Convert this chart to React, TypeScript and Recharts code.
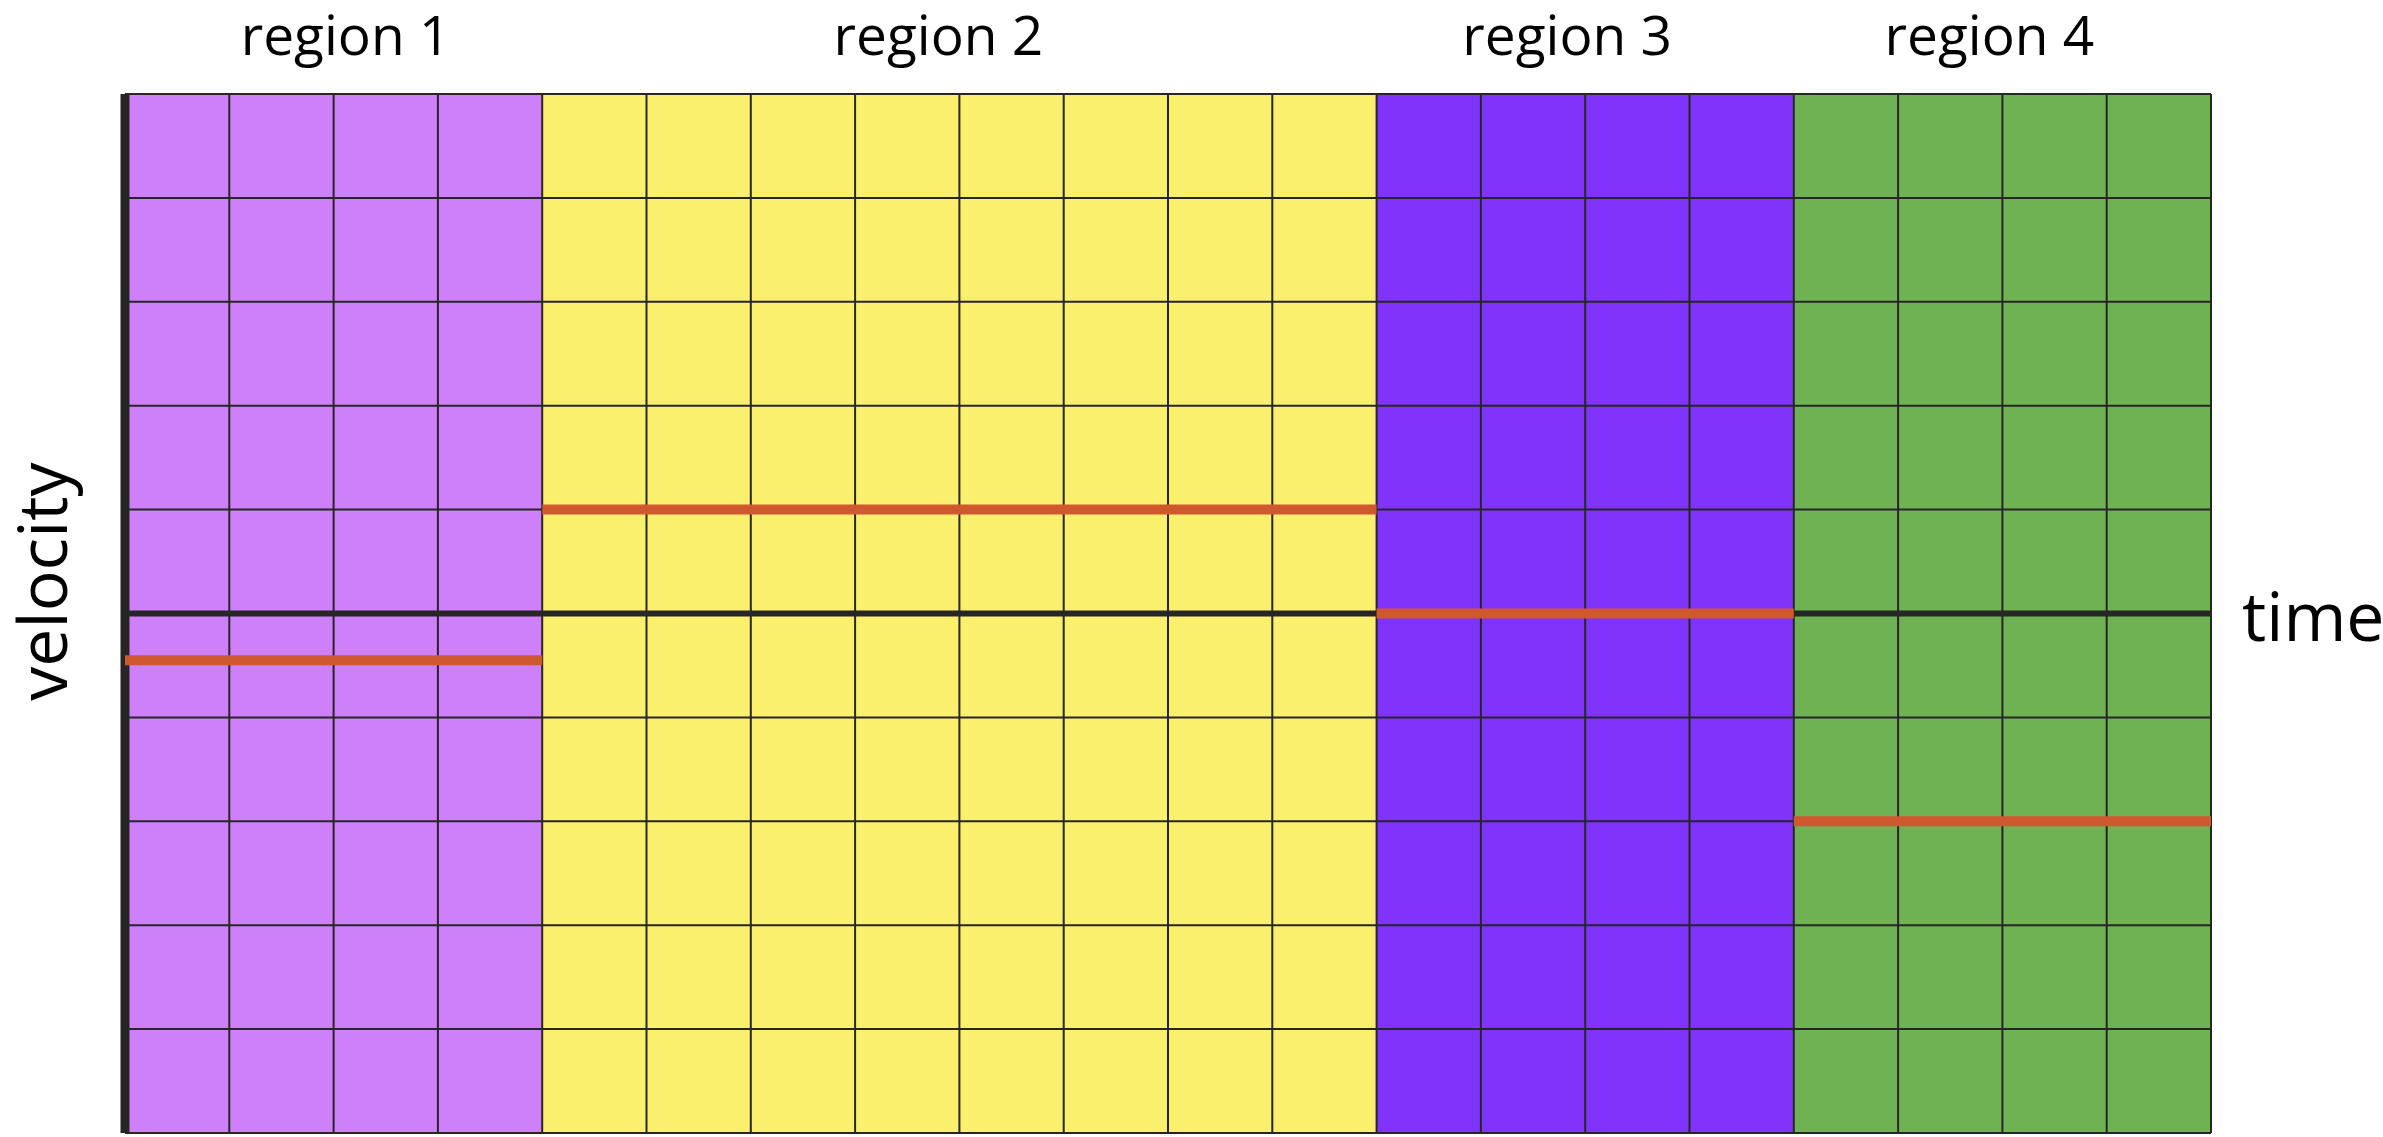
import React from 'react';
import { ComposedChart, Line, XAxis, YAxis, ReferenceArea, ReferenceLine } from 'recharts';

const regions = ['region 1', 'region 2', 'region 3', 'region 4'];
const regionStart = [0, 4, 12, 16];
const regionEnd = [4, 12, 16, 20];
const velocity = [-0.45, 1, 0, -2];
const xTicks = [0, 1, 2, 3, 4, 5, 6, 7, 8, 9, 10, 11, 12, 13, 14, 15, 16, 17, 18, 19, 20];
const yTicks = [-5, -4, -3, -2, -1, 0, 1, 2, 3, 4, 5];

const regionColors = ['#CE80FA', '#FAF06E', '#8033FA', '#6FB254'];
// small nudges so the titles sit where the original has them
const labelShift = [12, -21, -18, -13];
const font = '"Open Sans", sans-serif';
const gridColor = '#262626';

const VelocityLabel = (props: any) => {
  const vb = props.viewBox || {};
  const x = vb.x - 58;
  const y = vb.y + vb.height / 2 - 32;
  return (
    <text
      x={x}
      y={y}
      transform={`rotate(-90, ${x}, ${y})`}
      textAnchor="middle"
      fontSize={68}
      fontFamily={font}
      fill="#000"
    >
      velocity
    </text>
  );
};

export default function App() {
  return (
    <div style={{ position: 'absolute', left: 0, top: 0, background: '#fff' }}>
      <ComposedChart width={2383} height={1137} margin={{ top: 94, right: 172, bottom: 4, left: 125 }}>
        <XAxis type="number" dataKey="t" domain={[0, 20]} ticks={xTicks} hide />
        <YAxis type="number" domain={[-5, 5]} ticks={yTicks} hide />
        {regions.map((name, i) => (
          <ReferenceArea
            key={name}
            x1={regionStart[i]}
            x2={regionEnd[i]}
            y1={-5}
            y2={5}
            fill={regionColors[i]}
            fillOpacity={1}
            stroke="none"
            label={{
              value: name,
              position: 'top',
              offset: 39,
              dx: labelShift[i],
              fontSize: 55,
              fill: '#000',
              fontFamily: font,
            }}
          />
        ))}
        {xTicks.map((t) => (
          <ReferenceLine key={'x' + t} x={t} stroke={gridColor} strokeWidth={2} />
        ))}
        {yTicks.map((t) => (
          <ReferenceLine key={'y' + t} y={t} stroke={gridColor} strokeWidth={2} />
        ))}
        <ReferenceLine
          y={0}
          stroke={gridColor}
          strokeWidth={6}
          label={{ value: 'time', position: 'right', offset: 31, dy: 3, fontSize: 68, fill: '#000', fontFamily: font }}
        />
        <ReferenceLine x={0} stroke={gridColor} strokeWidth={9} label={<VelocityLabel />} />
        {regions.map((name, i) => (
          <Line
            key={name}
            data={[
              { t: regionStart[i], v: velocity[i] },
              { t: regionEnd[i], v: velocity[i] },
            ]}
            dataKey="v"
            stroke="#D0582E"
            strokeWidth={10}
            strokeLinecap="butt"
            dot={false}
            activeDot={false}
            isAnimationActive={false}
          />
        ))}
      </ComposedChart>
    </div>
  );
}
